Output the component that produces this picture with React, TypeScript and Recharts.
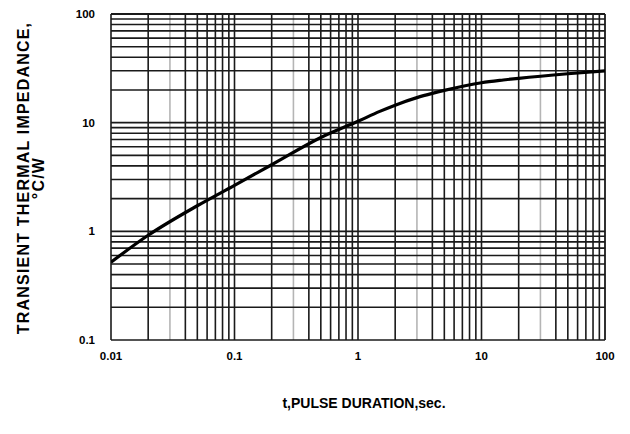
import { LineChart, Line, XAxis, YAxis, ReferenceLine } from 'recharts';

// pulse duration (sec) vs transient thermal impedance (°C/W)
const pulseDuration = [0.01, 0.02, 0.05, 0.1, 0.2, 0.5, 1, 1.5, 2, 3, 4, 5, 10, 15, 20, 50, 100];
const impedance = [0.52, 0.92, 1.72, 2.65, 4.1, 7.3, 10.3, 12.7, 14.5, 17, 18.6, 19.8, 23.3, 24.7, 25.6, 28.2, 30];

const xTicks = [0.01, 0.1, 1, 10, 100];
const yTicks = [0.1, 1, 10, 100];
const xDecades = [0.01, 0.1, 1, 10];
const yDecades = [0.1, 1, 10];
const multipliers = [1, 2, 3, 4, 5, 6, 7, 8, 9];
const lightMultipliers = [3];

const data = pulseDuration.map((t, i) => ({ t, z: impedance[i] }));

export default function App() {
    const font = { fontFamily: '"Liberation Sans", Arial, sans-serif', fontWeight: 700 };
    return (
        <div style={{ position: 'absolute', left: 0, top: 0, width: 630, height: 434, background: '#fff' }}>
            <LineChart
                width={630}
                height={434}
                data={data}
                margin={{ top: 14, right: 25, left: 71, bottom: 64 }}
            >
                <XAxis
                    dataKey="t"
                    type="number"
                    scale="log"
                    domain={[0.01, 100]}
                    ticks={xTicks}
                    allowDataOverflow
                    axisLine={false}
                    tickLine={false}
                    height={30}
                    tickMargin={6}
                    tick={{ fill: '#000', fontSize: 11.5, ...font }}
                />
                <YAxis
                    type="number"
                    scale="log"
                    domain={[0.1, 100]}
                    ticks={yTicks}
                    allowDataOverflow
                    axisLine={false}
                    tickLine={false}
                    width={40}
                    tickMargin={10}
                    tick={{ fill: '#000', fontSize: 11.5, ...font }}
                />
                {xDecades.flatMap((d) =>
                    multipliers.map((m) => (
                        <ReferenceLine
                            key={`vx-${d}-${m}`}
                            x={+(d * m).toPrecision(3)}
                            stroke={lightMultipliers.includes(m) ? '#b5b5b5' : '#1a1a1a'}
                            strokeWidth={1.6}
                        />
                    ))
                )}
                <ReferenceLine x={100} stroke="#1a1a1a" strokeWidth={1.8} />
                {yDecades.flatMap((d) =>
                    multipliers.map((m) => (
                        <ReferenceLine
                            key={`hy-${d}-${m}`}
                            y={+(d * m).toPrecision(3)}
                            stroke="#1a1a1a"
                            strokeWidth={1.6}
                        />
                    ))
                )}
                <ReferenceLine y={100} stroke="#1a1a1a" strokeWidth={1.8} />
                <Line
                    dataKey="z"
                    type="monotone"
                    stroke="#000"
                    strokeWidth={3.2}
                    dot={false}
                    isAnimationActive={false}
                />
            </LineChart>
            <div
                style={{
                    position: 'absolute',
                    left: 0,
                    top: 395,
                    width: 630,
                    textAlign: 'center',
                    fontSize: 14,
                    paddingLeft: 98,
                    boxSizing: 'border-box',
                    ...font,
                }}
            >
                t,PULSE DURATION,sec.
            </div>
            <div style={{ position: 'absolute', left: 31, top: 178, width: 0, height: 0 }}>
                <div
                    style={{
                        position: 'absolute',
                        transform: 'translate(-50%, -50%) rotate(-90deg)',
                        whiteSpace: 'nowrap',
                        textAlign: 'center',
                        fontSize: 16,
                        letterSpacing: 1.2,
                        lineHeight: '15px',
                        ...font,
                    }}
                >
                    TRANSIENT THERMAL IMPEDANCE,
                    <br />
                    °C/W
                </div>
            </div>
        </div>
    );
}
